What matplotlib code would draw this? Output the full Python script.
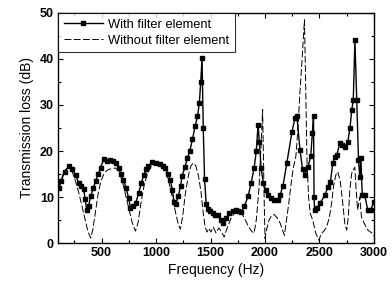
import matplotlib
matplotlib.use("Agg")
import matplotlib.pyplot as plt
from matplotlib.ticker import MultipleLocator

plt.rcParams['font.family'] = ['Liberation Sans', 'DejaVu Sans']

# With filter element
f_with = [107, 130, 160, 198, 230, 262, 290, 308, 335, 350, 363, 380, 400, 425, 445, 470, 490,
          520, 550, 580, 605, 628, 656, 680, 700, 725, 748, 765, 790, 815, 840, 865, 886, 910,
          930, 966, 1000, 1040, 1065, 1085, 1110, 1131, 1150, 1165, 1180, 1205, 1225, 1240,
          1265, 1287, 1310, 1333, 1360, 1380, 1397, 1410, 1422, 1433, 1445, 1460, 1479, 1497,
          1520, 1545, 1570, 1595, 1616, 1643, 1670, 1708, 1730, 1753, 1781, 1810, 1845, 1872,
          1900, 1920, 1936, 1948, 1964, 1985, 2005, 2028, 2055, 2083, 2120, 2140, 2165, 2201,
          2247, 2275, 2293, 2321, 2345, 2366, 2394, 2420, 2435, 2445, 2450, 2455, 2475, 2504,
          2550, 2577, 2600, 2622, 2641, 2659, 2687, 2705, 2730, 2760, 2780, 2796, 2810, 2825,
          2842, 2858, 2870, 2880, 2892, 2915, 2943, 2970, 3000]
tl_with = [12.0, 13.5, 15.5, 16.7, 16.0, 14.8, 13.0, 12.4, 11.7, 9.5, 7.2, 8.0, 10.2, 12.0, 13.5,
           15.0, 16.3, 18.3, 17.8, 18.0, 17.8, 17.5, 16.3, 15.0, 13.7, 12.0, 9.8, 7.6, 8.0, 8.8,
           10.9, 13.0, 14.8, 16.0, 16.7, 17.6, 17.4, 17.2, 16.8, 16.3, 15.0, 13.7, 11.5, 9.0,
           8.5, 10.2, 12.5, 14.6, 16.5, 18.5, 20.0, 22.5, 25.5, 27.5, 30.4, 35.0, 40.2, 25.0,
           14.0, 8.5, 7.5, 7.0, 6.5, 6.2, 6.0, 5.0, 4.3, 5.4, 6.5, 7.0, 7.2, 7.0, 6.7, 8.0,
           10.2, 13.0, 16.3, 20.0, 25.7, 22.0, 16.3, 13.0, 11.5, 10.4, 9.8, 9.3, 9.3, 10.5,
           12.5, 17.5, 24.1, 27.2, 27.5, 20.2, 16.0, 14.8, 16.5, 19.0, 24.0, 27.6, 10.0, 7.2,
           7.6, 8.7, 10.4, 12.2, 13.3, 17.4, 18.7, 19.1, 21.7, 21.3, 20.9, 22.0, 25.0, 28.9,
           31.0, 44.0, 31.0, 18.0, 14.3, 18.5, 10.5, 10.4, 7.2, 7.2, 9.0]

# Without filter element
f_without = [107, 140, 170, 200, 230, 260, 290, 320, 350, 375, 400, 420, 445, 470, 495, 520, 550,
             590, 628, 660, 690, 720, 750, 780, 811, 835, 860, 890, 920, 950, 990, 1030, 1060,
             1090, 1120, 1150, 1180, 1205, 1223, 1245, 1270, 1300, 1320, 1342, 1365, 1390, 1410,
             1433, 1450, 1468, 1485, 1503, 1525, 1550, 1575, 1600, 1625, 1645, 1665, 1690, 1720,
             1760, 1790, 1820, 1850, 1880, 1900, 1920, 1945, 1965, 1978, 1990, 2000, 2015, 2037,
             2060, 2085, 2110, 2140, 2165, 2178, 2200, 2220, 2240, 2257, 2284, 2303, 2320, 2340,
             2362, 2372, 2385, 2400, 2415, 2440, 2465, 2495, 2515, 2540, 2565, 2590, 2610, 2630,
             2650, 2668, 2690, 2710, 2732, 2750, 2765, 2778, 2796, 2824, 2835, 2850, 2870, 2885,
             2910, 2945, 2980, 3000]
tl_without = [12.0, 14.5, 16.0, 16.5, 15.5, 13.5, 11.0, 8.0, 5.0, 2.5, 1.1, 3.0, 7.0, 11.0, 13.5,
              15.0, 15.8, 16.2, 16.3, 15.5, 13.5, 10.5, 7.5, 4.5, 2.6, 4.5, 8.5, 12.5, 15.0, 16.5,
              17.3, 17.5, 17.0, 15.5, 13.0, 10.0, 6.5, 4.0, 3.0, 6.0, 11.0, 15.0, 16.8, 17.4,
              16.8, 14.5, 11.5, 6.5, 3.5, 2.4, 3.2, 2.4, 3.5, 2.2, 3.3, 2.5, 1.3, 2.8, 4.0, 5.5,
              6.5, 7.0, 6.3, 5.0, 3.5, 2.5, 2.2, 5.0, 12.0, 22.0, 29.0, 12.0, 1.0, 3.0, 5.0, 6.0,
              6.2, 5.5, 4.3, 2.5, 1.7, 5.5, 9.0, 13.0, 16.0, 19.0, 25.2, 32.6, 39.8, 48.5, 36.0,
              18.0, 10.0, 6.5, 4.8, 2.2, 0.6, 2.0, 2.6, 3.5, 5.5, 8.5, 12.5, 14.8, 15.5, 13.5,
              9.5, 4.3, 2.8, 5.7, 11.5, 15.2, 16.5, 12.0, 7.2, 10.0, 5.7, 4.3, 2.8, 2.2, 1.5]

x_ticks = [500, 1000, 1500, 2000, 2500, 3000]
y_ticks = [0, 10, 20, 30, 40, 50]

fig = plt.figure(figsize=(3.92, 2.86), dpi=100)
ax = fig.add_axes([0.148, 0.150, 0.806, 0.805])

ax.plot(f_with, tl_with, color='black', lw=1.0, marker='s', markersize=2.8,
        label='With filter element')
ax.plot(f_without, tl_without, color='black', lw=0.7, linestyle=(0, (7, 2.5)),
        label='Without filter element')

ax.set_xlim(100, 3000)
ax.set_ylim(0, 50)
ax.set_xticks(x_ticks)
ax.set_yticks(y_ticks)
ax.xaxis.set_minor_locator(MultipleLocator(250))
ax.yaxis.set_minor_locator(MultipleLocator(5))
ax.tick_params(which='both', direction='in', top=True, right=True, width=0.8)
ax.tick_params(which='major', length=3.5, labelsize=9, pad=3)
ax.tick_params(which='minor', length=2)
for lab in ax.get_xticklabels() + ax.get_yticklabels():
    lab.set_fontweight('bold')
for s in ax.spines.values():
    s.set_linewidth(1.0)

ax.set_xlabel('Frequency (Hz)', fontsize=10, labelpad=3)
ax.set_ylabel('Transmission loss (dB)', fontsize=10, labelpad=4)

leg = ax.legend(loc='upper left', fontsize=9.3, frameon=True, fancybox=False,
                edgecolor='black', borderaxespad=0, handlelength=3.0,
                borderpad=0.45, labelspacing=0.3, handletextpad=0.4)
leg.get_frame().set_linewidth(0.8)

fig.savefig('out.png', dpi=100)
